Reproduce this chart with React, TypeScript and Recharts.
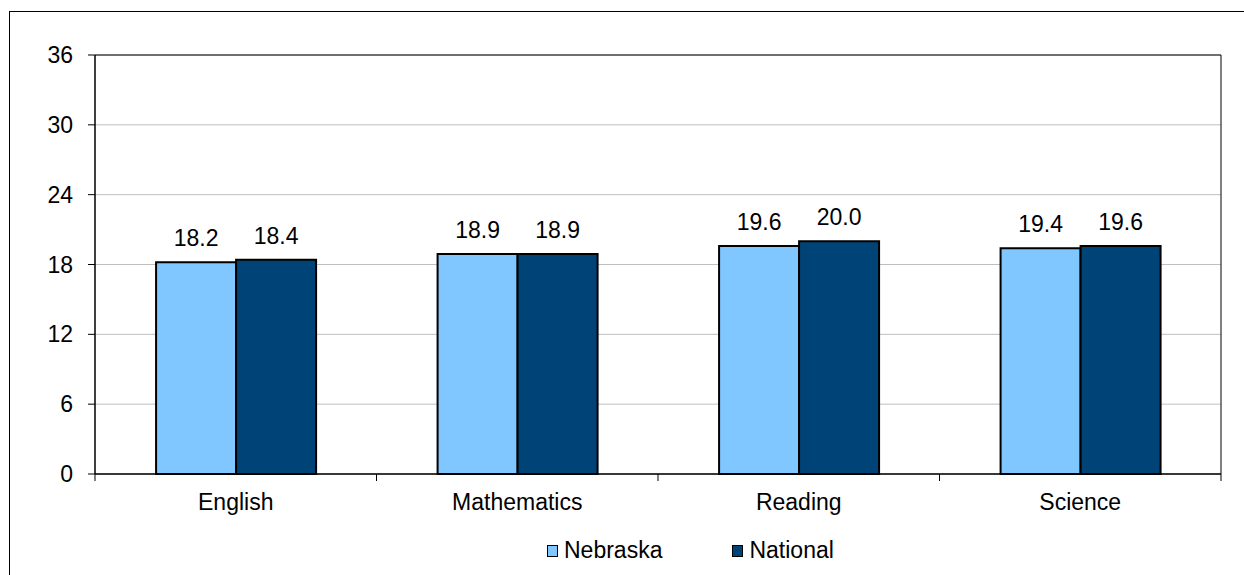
import { BarChart, Bar, XAxis, YAxis, CartesianGrid, ReferenceArea, LabelList } from 'recharts';

const subjects = ['English', 'Mathematics', 'Reading', 'Science'];
const nebraska = [18.2, 18.9, 19.6, 19.4];
const national = [18.4, 18.9, 20.0, 19.6];
const yTicks = [0, 6, 12, 18, 24, 30, 36];

const seriesNames = ['Nebraska', 'National'];
const seriesColors = ['#80C6FF', '#004477'];

const FONT = '"Liberation Sans", Arial, sans-serif';
const FS = 23;

const chartData = subjects.map((s, i) => ({ name: s, nebraska: nebraska[i], national: national[i] }));

function CategoryTick(props: any) {
  const { x, y, payload, index, visibleTicksCount } = props;
  const half = payload && typeof payload.offset === 'number' && payload.offset > 0 ? payload.offset : 140.7;
  const axisY = y - 7;
  const last = index === (visibleTicksCount ?? subjects.length) - 1;
  return (
    <g>
      <line x1={x - half} y1={axisY} x2={x - half} y2={axisY + 7} stroke="#000" />
      {last && <line x1={x + half} y1={axisY} x2={x + half} y2={axisY + 7} stroke="#000" />}
      <text x={x} y={axisY + 36} textAnchor="middle" fontSize={FS} fontFamily={FONT} fill="#000">
        {payload.value}
      </text>
    </g>
  );
}

function LegendBox() {
  return (
    <div
      style={{
        position: 'absolute',
        top: 539,
        left: 547,
        display: 'flex',
        alignItems: 'center',
        fontFamily: FONT,
        fontSize: FS,
        lineHeight: `${FS}px`,
        color: '#000',
        height: FS,
      }}
    >
      {seriesNames.map((n, i) => (
        <div key={n} style={{ display: 'flex', alignItems: 'center', marginRight: i === 0 ? 70 : 0 }}>
          <span
            style={{
              display: 'inline-block',
              width: 9,
              height: 10,
              background: seriesColors[i],
              border: '1.5px solid #000',
              marginRight: 6,
            }}
          />
          <span>{n}</span>
        </div>
      ))}
    </div>
  );
}

export default function App() {
  return (
    <div style={{ position: 'absolute', top: 0, left: 0, width: 1244, height: 575, overflow: 'hidden', background: '#fff' }}>
      <div
        style={{
          position: 'absolute',
          left: 9,
          top: 11,
          width: 1400,
          height: 800,
          border: '1px solid #000',
        }}
      />
      <div style={{ position: 'absolute', top: 0, left: 0 }}>
        <BarChart
          width={1244}
          height={575}
          data={chartData}
          margin={{ top: 55, right: 23, left: 0, bottom: 61 }}
          barCategoryGap="21.7%"
          barGap={0}
        >
          <CartesianGrid vertical={false} stroke="#BFBFBF" />
          <ReferenceArea y1={0} y2={36} fill="none" stroke="#000" strokeWidth={1} ifOverflow="visible" />
          <XAxis
            dataKey="name"
            height={40}
            axisLine={{ stroke: '#000' }}
            tickLine={false}
            tickSize={7}
            tickMargin={0}
            tick={<CategoryTick />}
            interval={0}
          />
          <YAxis
            width={95}
            domain={[0, 36]}
            ticks={yTicks}
            interval={0}
            axisLine={{ stroke: '#000' }}
            tickLine={{ stroke: '#000' }}
            tickSize={7}
            tickMargin={15}
            tick={{ fontSize: FS, fontFamily: FONT, fill: '#000' }}
          />
          <Bar dataKey="nebraska" fill={seriesColors[0]} stroke="#000" strokeWidth={2} isAnimationActive={false}>
            <LabelList
              dataKey="nebraska"
              position="top"
              offset={16}
              formatter={(v: any) => Number(v).toFixed(1)}
              style={{ fontSize: FS, fontFamily: FONT, fill: '#000' }}
            />
          </Bar>
          <Bar dataKey="national" fill={seriesColors[1]} stroke="#000" strokeWidth={2} isAnimationActive={false}>
            <LabelList
              dataKey="national"
              position="top"
              offset={16}
              formatter={(v: any) => Number(v).toFixed(1)}
              style={{ fontSize: FS, fontFamily: FONT, fill: '#000' }}
            />
          </Bar>
        </BarChart>
      </div>
      <LegendBox />
    </div>
  );
}
